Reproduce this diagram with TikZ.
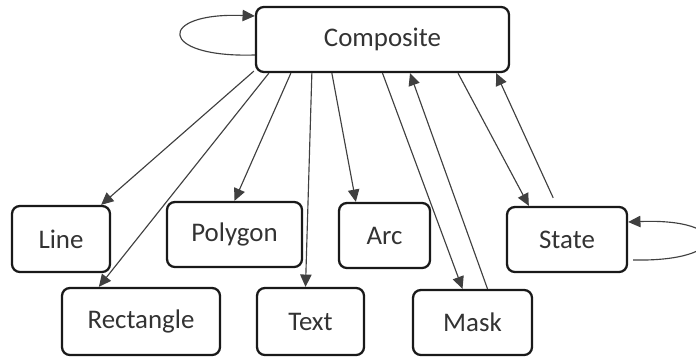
\documentclass[tikz,border=0pt]{standalone}
\usepackage{fontspec}
\setmainfont{Carlito}
\usetikzlibrary{arrows.meta}

\begin{document}
\begin{tikzpicture}[
box/.style={draw=black!90, line width=1.3pt, rounded corners=4.5pt,
                inner sep=0pt, text=black!80,
                font=\fontsize{15.3}{18}\selectfont},
arr/.style={draw=black!75, line width=0.65pt,
                -{Triangle[length=7pt,width=6.5pt]}}]
    \useasboundingbox (0,0) rectangle (13.92,-7.16);
    \node[box, minimum width=5.06cm, minimum height=1.3cm] (comp) at (7.65,-0.79) {Composite};
    \node[box, minimum width=1.96cm, minimum height=1.32cm] (line) at (1.22,-4.78) {Line};
    \node[box, minimum width=2.7cm, minimum height=1.3cm] (poly) at (4.69,-4.69) {Polygon};
    \node[box, minimum width=1.82cm, minimum height=1.3cm] (arc) at (7.69,-4.71) {Arc};
    \node[box, minimum width=2.4cm, minimum height=1.3cm] (state) at (11.34,-4.79) {State};
    \node[box, minimum width=3.16cm, minimum height=1.34cm] (rect) at (2.82,-6.43) {Rectangle};
    \node[box, minimum width=2.14cm, minimum height=1.34cm] (text) at (6.21,-6.43) {Text};
    \node[box, minimum width=2.38cm, minimum height=1.3cm] (mask) at (9.45,-6.45) {Mask};

    \draw[arr] ([shift={(-0.02,0.04)}]comp.south west) -- ([xshift=-0.2cm]line.north east);
    \draw[arr] ([xshift=0.28cm]comp.south west) -- ([xshift=0.76cm]rect.north west);
    \draw[arr] ([xshift=0.72cm]comp.south west) -- (poly.north);
    \draw[arr] ([xshift=1.14cm]comp.south west) -- ([xshift=-0.1cm]text.north);
    \draw[arr] ([xshift=1.54cm]comp.south west) -- ([xshift=0.36cm]arc.north west);
    \draw[arr] (comp.south) -- ([xshift=-0.2cm]mask.north);
    \draw[arr] ([xshift=0.3cm]mask.north) -- ([xshift=0.55cm]comp.south);
    \draw[arr] ([xshift=1.51cm]comp.south) -- ([xshift=0.46cm]state.north west);
    \draw[arr, shorten <=5pt] ([xshift=1.02cm]state.north west) -- ([xshift=-0.28cm]comp.south east);

    \draw[arr] ([yshift=-0.31cm]comp.west) .. controls +(-1.96,-0.06) and +(-1.96,0.08) .. ([yshift=0.47cm]comp.west);
    \draw[arr] ([shift={(0.1,-0.41)}]state.east) .. controls +(1.96,-0.04) and +(2.06,0.08) .. ([yshift=0.35cm]state.east);
\end{tikzpicture}
\end{document}
